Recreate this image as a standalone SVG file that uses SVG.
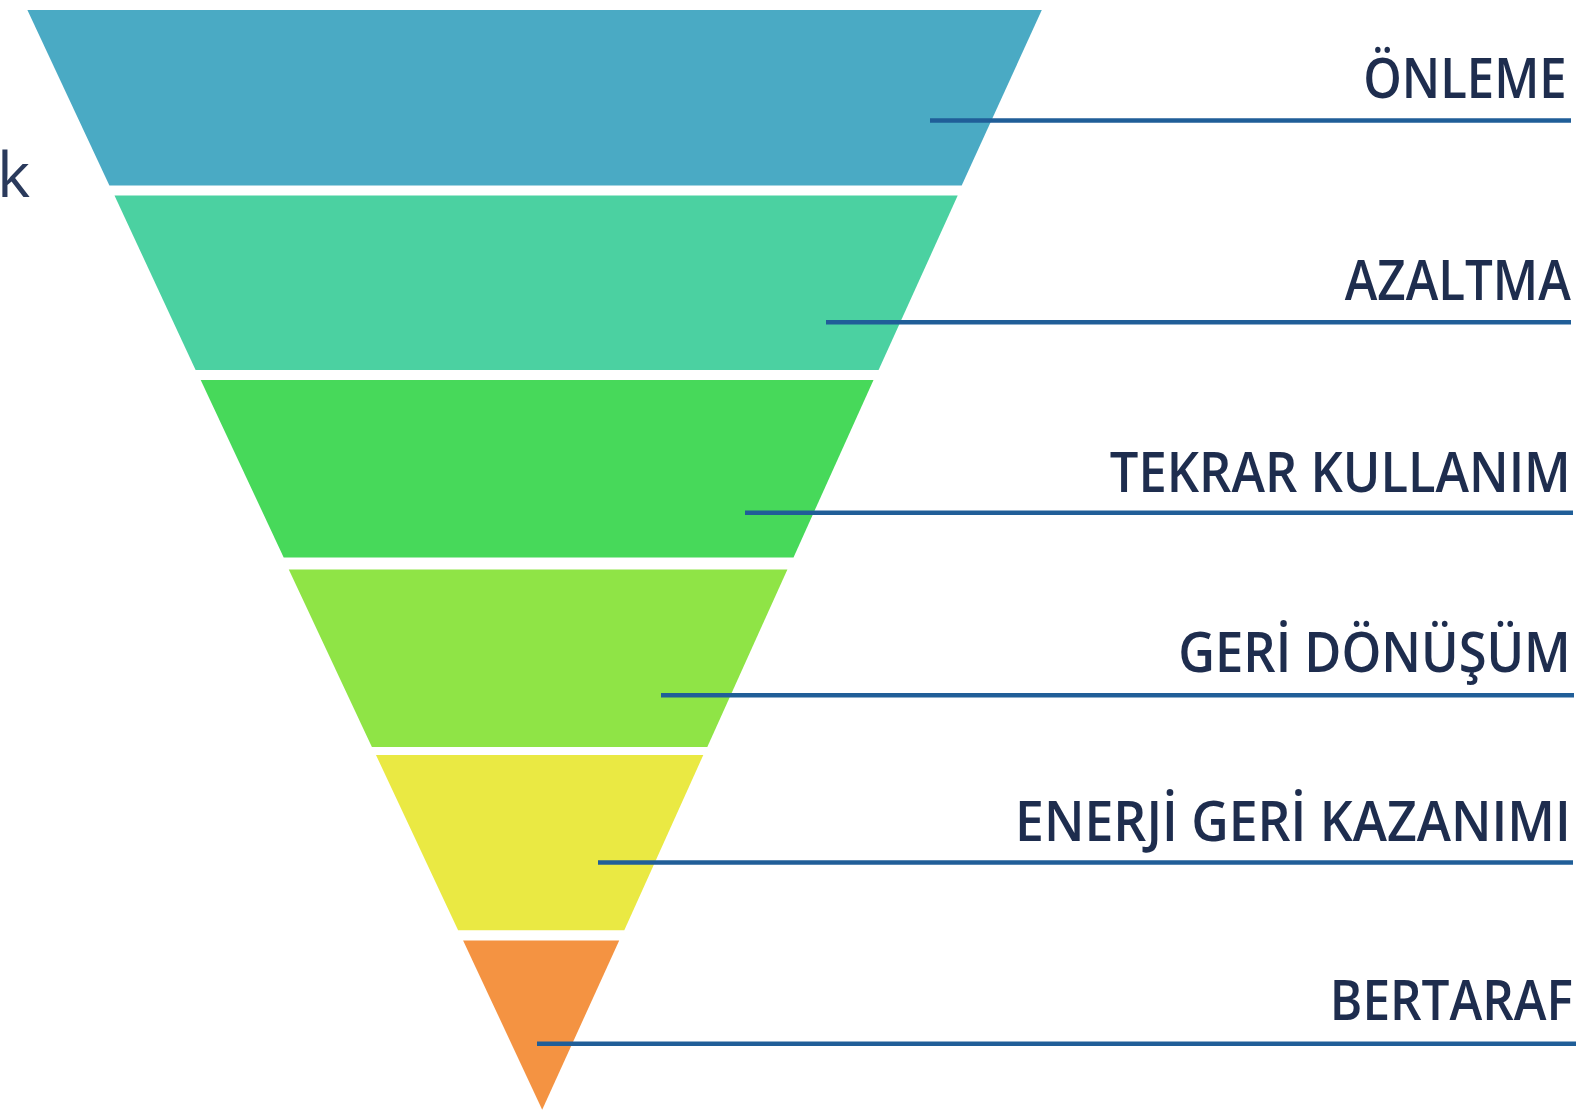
<svg xmlns="http://www.w3.org/2000/svg" width="1589" height="1113" viewBox="0 0 1589 1113">
<style>
.lbl{font-family:"Open Sans","Noto Sans","DejaVu Sans",sans-serif;font-weight:600;font-size:56px;fill:#1E2D4E}
.con{stroke:#205E98;stroke-width:4.5;fill:none}
</style>
<rect width="1589" height="1113" fill="#FFFFFF"/>
<text x="-3" y="197" style="font-family:'Open Sans','Noto Sans',sans-serif;font-size:63px;fill:#2A3A5C">k</text>
<g id="band-onleme"><polygon points="27.4,10.1 1041.8,10.1 961.7,185.5 109.4,185.5" fill="#4AAAC4"/></g>
<g id="band-azaltma"><polygon points="114.5,195.6 957.7,195.6 878.6,369.9 195.6,369.9" fill="#4BD1A1"/></g>
<g id="band-tekrar"><polygon points="200.7,380 873.5,380 793.5,557.4 283.7,557.4" fill="#47D95A"/></g>
<g id="band-geri-donusum"><polygon points="288.8,569.5 787.4,569.5 707.3,746.9 371.9,746.9" fill="#8FE446"/></g>
<g id="band-enerji"><polygon points="376,755 703.3,755 624.3,930.3 458.1,930.3" fill="#EAE943"/></g>
<g id="band-bertaraf"><polygon points="463.1,940.4 619.2,940.4 542.2,1109.7" fill="#F49342"/></g>
<g id="connectors">
<line class="con" x1="930" y1="120.6" x2="1571" y2="120.6"/>
<line class="con" x1="826" y1="322.3" x2="1571" y2="322.3"/>
<line class="con" x1="745" y1="512.8" x2="1573" y2="512.8"/>
<line class="con" x1="661" y1="695.2" x2="1574" y2="695.2"/>
<line class="con" x1="598" y1="862.4" x2="1573" y2="862.4"/>
<line class="con" x1="537" y1="1043.8" x2="1576" y2="1043.8"/>
</g>
<g id="labels">
<text id="lbl-onleme" class="lbl" text-anchor="end" transform="translate(1566.7,98.3) scale(0.875,1)">ÖNLEME</text>
<text id="lbl-azaltma" class="lbl" text-anchor="end" transform="translate(1570.8,300) scale(0.88,1)">AZALTMA</text>
<text id="lbl-tekrar" class="lbl" text-anchor="end" transform="translate(1570.8,491.5) scale(0.905,1)">TEKRAR KULLANIM</text>
<text id="lbl-geri-donusum" class="lbl" text-anchor="end" transform="translate(1570.8,671.9) scale(0.905,1)">GERİ DÖNÜŞÜM</text>
<text id="lbl-enerji" class="lbl" text-anchor="end" transform="translate(1570.8,841.1) scale(0.924,1)">ENERJİ GERİ KAZANIMI</text>
<text id="lbl-bertaraf" class="lbl" text-anchor="end" transform="translate(1572.8,1019.5) scale(0.883,1)">BERTARAF</text>
</g>
</svg>
